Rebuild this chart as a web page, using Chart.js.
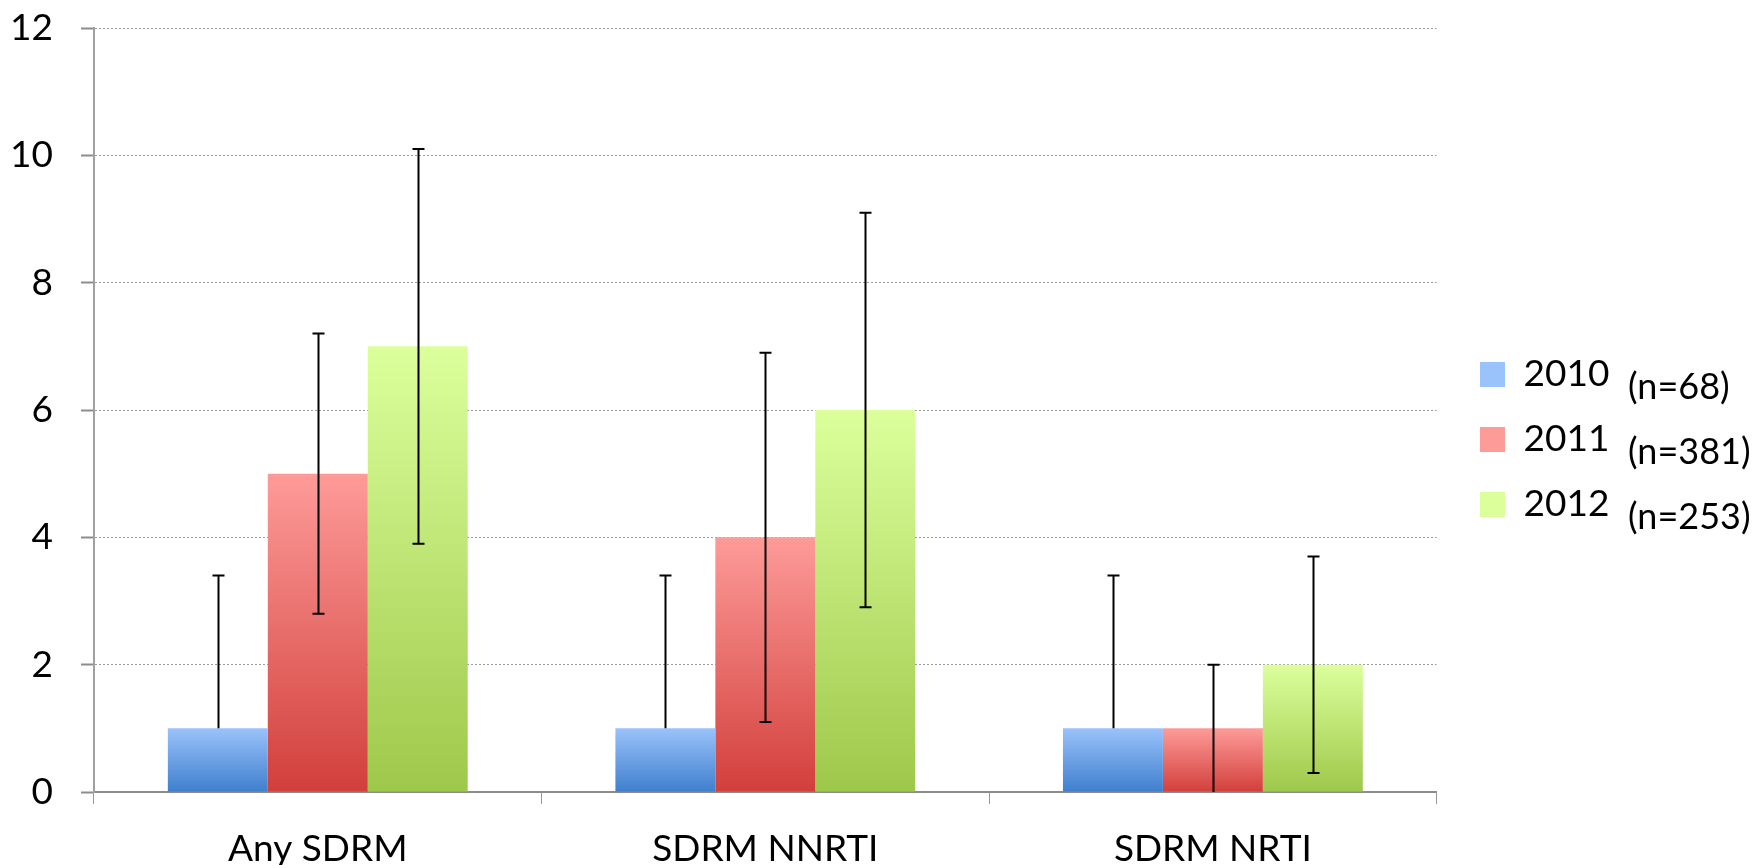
<!DOCTYPE html>
<html>
<head>
<meta charset="utf-8">
<script src="https://cdn.jsdelivr.net/npm/chart.js@4.4.1/dist/chart.umd.min.js"></script>
<style>
  html, body { margin: 0; padding: 0; background: #fff; overflow: hidden; }
  #wrap { width: 1764px; height: 865px; position: relative; }
</style>
</head>
<body>
<div id="wrap"><canvas id="barChart" width="1764" height="865"></canvas></div>
<script>
// chart data
var categories = ["Any SDRM", "SDRM NNRTI", "SDRM NRTI"];
var years = ["2010", "2011", "2012"];
var sampleSizes = ["(n=68)", "(n=381)", "(n=253)"];
var values2010 = [1, 1, 1];
var values2011 = [5, 4, 1];
var values2012 = [7, 6, 2];
// error bar ends (low, high), null = no lower cap
var low2010 = [null, null, null];
var high2010 = [3.4, 3.4, 3.4];
var low2011 = [2.8, 1.1, null];
var high2011 = [7.2, 6.9, 2.0];
var low2012 = [3.9, 2.9, 0.3];
var high2012 = [10.1, 9.1, 3.7];
var yTicks = [0, 2, 4, 6, 8, 10, 12];

var gradStops = [
  ["#9ac2fb", "#3f7fcd"],
  ["#fd9b99", "#d23f3b"],
  ["#dcff9c", "#9ec84a"]
];
var fontFam = "Lato, 'Open Sans', sans-serif";

function barGradient(i) {
  return function (context) {
    var chart = context.chart;
    var y = chart.scales.y;
    if (!y || context.raw == null) return gradStops[i][0];
    var top = y.getPixelForValue(context.raw);
    var bottom = y.getPixelForValue(0);
    if (!isFinite(top) || !isFinite(bottom) || top === bottom) return gradStops[i][0];
    var g = chart.ctx.createLinearGradient(0, top, 0, bottom);
    g.addColorStop(0, gradStops[i][0]);
    g.addColorStop(1, gradStops[i][1]);
    return g;
  };
}

var errorLows = [low2010, low2011, low2012];
var errorHighs = [high2010, high2011, high2012];

// draws error bars from the arrays above through the y scale
var errorBars = {
  id: "errorBars",
  afterDatasetsDraw: function (chart) {
    var ctx = chart.ctx;
    var y = chart.scales.y;
    ctx.save();
    ctx.strokeStyle = "#000";
    ctx.lineWidth = 2;
    chart.data.datasets.forEach(function (ds, i) {
      var meta = chart.getDatasetMeta(i);
      meta.data.forEach(function (bar, j) {
        var x = Math.round(bar.x) + 0.5;
        var lowVal = errorLows[i][j];
        var yHigh = y.getPixelForValue(errorHighs[i][j]);
        var yLow = lowVal == null ? (i === 0 ? y.getPixelForValue(ds.data[j]) : y.getPixelForValue(0)) : y.getPixelForValue(lowVal);
        ctx.beginPath();
        ctx.moveTo(x, yHigh);
        ctx.lineTo(x, yLow);
        ctx.moveTo(x - 6, yHigh);
        ctx.lineTo(x + 6, yHigh);
        if (lowVal != null) {
          ctx.moveTo(x - 6, yLow);
          ctx.lineTo(x + 6, yLow);
        }
        ctx.stroke();
      });
    });
    ctx.restore();
  }
};

// nudge the legend to the right, like the original
var legendNudge = {
  id: "legendNudge",
  afterLayout: function (chart) {
    var lg = chart.legend;
    if (!lg) return;
    var dx = 1480 - (lg.left + 28);
    lg.left += dx;
    lg.right += dx;
    lg.top -= 7;
    lg.bottom -= 7;
  }
};

// sample size notes next to legend entries
var sizeNotes = {
  id: "sizeNotes",
  afterDraw: function (chart) {
    var boxes = chart.legend && chart.legend.legendHitBoxes;
    if (!boxes) return;
    var ctx = chart.ctx;
    ctx.save();
    ctx.fillStyle = "#000";
    ctx.font = "36px " + fontFam;
    ctx.textBaseline = "middle";
    boxes.forEach(function (b, i) {
      ctx.fillText(sampleSizes[i], b.left + 148, b.top + b.height / 2 + 13);
    });
    ctx.restore();
  }
};

var ctx = document.getElementById("barChart").getContext("2d");
var myChart = new Chart(ctx, {
  type: "bar",
  data: {
    labels: categories,
    datasets: [
      { label: years[0], data: values2010, backgroundColor: barGradient(0) },
      { label: years[1], data: values2011, backgroundColor: barGradient(1) },
      { label: years[2], data: values2012, backgroundColor: barGradient(2) }
    ]
  },
  options: {
    responsive: false,
    animation: false,
    devicePixelRatio: 1,
    layout: { padding: { left: 0, top: 28, right: 160, bottom: 0 } },
    datasets: { bar: { barPercentage: 1, categoryPercentage: 0.67 } },
    plugins: {
      tooltip: { enabled: false },
      legend: {
        position: "right",
        align: "center",
        labels: {
          boxWidth: 25,
          boxHeight: 25,
          padding: 28,
          color: "#000",
          font: { family: fontFam, size: 37 },
          generateLabels: function (chart) {
            return chart.data.datasets.map(function (ds, i) {
              return {
                text: ds.label,
                fillStyle: gradStops[i][0],
                strokeStyle: "rgba(0,0,0,0)",
                lineWidth: 0,
                datasetIndex: i
              };
            });
          }
        }
      }
    },
    scales: {
      x: {
        grid: {
          offset: true,
          drawOnChartArea: false,
          drawTicks: true,
          tickLength: 12,
          color: "#999",
          lineWidth: 1
        },
        border: { display: true, color: "#8c8c8c", width: 2 },
        ticks: {
          color: "#000",
          padding: 23,
          font: { family: fontFam, size: 37 }
        },
        afterFit: function (scale) { scale.height = 73; }
      },
      y: {
        min: 0,
        max: 12,
        afterBuildTicks: function (scale) {
          scale.ticks = yTicks.map(function (v) { return { value: v }; });
        },
        afterFit: function (scale) {
          scale.width = 94;
          scale.paddingTop = 0;
          scale.paddingBottom = 0;
        },
        grid: {
          color: "#9a9a9a",
          lineWidth: 1,
          tickLength: 13,
          tickColor: "#8c8c8c",
          tickWidth: 2
        },
        border: { display: true, color: "#a0a0a0", width: 2, dash: [2, 2] },
        ticks: {
          color: "#000",
          padding: 28,
          font: { family: fontFam, size: 37 }
        }
      }
    }
  },
  plugins: [errorBars, legendNudge, sizeNotes]
});
</script>
</body>
</html>
